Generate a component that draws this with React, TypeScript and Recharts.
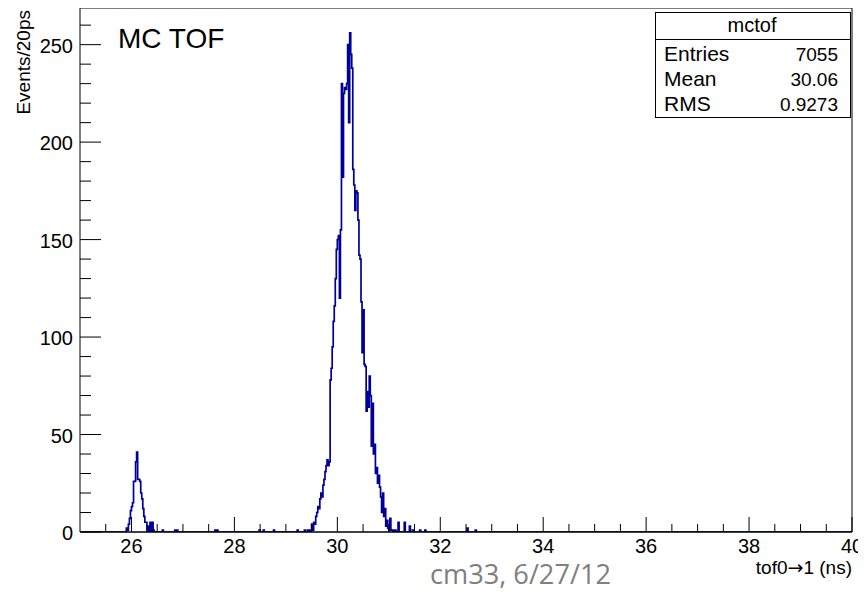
import React from 'react';
import { LineChart, Line, XAxis, YAxis, ReferenceLine } from 'recharts';

// histogram binning (ns)
const BIN = 0.02;
const X_MIN = 25;
const X_MAX = 40;
const Y_MAX = 268.8;

// small peak near 26 ns, counts per 20ps bin starting at 25.90
const lowPeakStart = 25.9;
const lowPeakCounts = [2, 1, 4, 7, 11, 13, 15, 26, 26, 36, 41, 27, 27, 26, 20, 17, 12, 8, 5, 5, 0, 3, 0, 5, 0, 5, 1];

// main peak near 30.2 ns, counts per 20ps bin starting at 29.50
const mainPeakStart = 29.5;
const mainPeakCounts = [
  4, 1, 5, 4, 8, 10, 13, 12, 17, 20, 18, 24, 27, 31, 34, 37, 34, 36,
  78, 84, 95, 108, 116, 130, 145, 150, 152, 120, 155,
  230, 182, 225, 228, 227, 230, 250, 210, 256, 245, 238,
  186, 178, 165, 175, 174, 160, 142, 140, 118, 92, 114,
  86, 85, 62, 72, 64, 80, 70, 44, 66, 40, 45, 30, 33, 25, 29, 23, 18, 10, 20,
  8, 12, 3, 6, 2, 1, 7, 1, 1, 0, 1, 1, 0, 0, 5,
];

// isolated entries outside the two peaks
const strayTimes = [26.6, 26.84, 26.88, 27.62, 27.66, 28.48, 28.56, 28.76, 29.22, 29.36, 29.42, 29.46, 31.3, 31.4, 31.46, 31.6, 31.7, 32.52, 32.68];
const strayCounts = [1, 1, 1, 1, 1, 1, 1, 1, 1, 1, 1, 1, 5, 3, 1, 1, 1, 2, 1];

const xTicks = [25.5, 26, 26.5, 27, 27.5, 28, 28.5, 29, 29.5, 30, 30.5, 31, 31.5, 32, 32.5, 33, 33.5, 34, 34.5, 35, 35.5, 36, 36.5, 37, 37.5, 38, 38.5, 39, 39.5, 40];
const xMajorTicks = [26, 28, 30, 32, 34, 36, 38, 40];
const yTicks = [0, 10, 20, 30, 40, 50, 60, 70, 80, 90, 100, 110, 120, 130, 140, 150, 160, 170, 180, 190, 200, 210, 220, 230, 240, 250, 260];
const yMajorTicks = [0, 50, 100, 150, 200, 250];

const statsLabels = ['Entries', 'Mean', 'RMS'];
const statsValues = ['7055', '30.06', '0.9273'];

const bins: number[] = new Array(Math.round((X_MAX - X_MIN) / BIN)).fill(0);
const binIndex = (t: number) => Math.round((t - X_MIN) / BIN);
lowPeakCounts.forEach((c, i) => { bins[binIndex(lowPeakStart) + i] += c; });
mainPeakCounts.forEach((c, i) => { bins[binIndex(mainPeakStart) + i] += c; });
strayTimes.forEach((t, i) => { bins[binIndex(t)] += strayCounts[i]; });

const histData = bins
  .map((n, i) => ({ t: +(X_MIN + i * BIN).toFixed(2), n }))
  .concat([{ t: X_MAX, n: 0 }]);

const FONT = '"Liberation Sans", Arial, sans-serif';

const XTick = ({ x, y, payload }: any) => {
  const major = xMajorTicks.includes(payload.value);
  return (
    <g>
      <line x1={x} x2={x} y1={y} y2={y - (major ? 15 : 8)} stroke="#000" />
      {major && (
        <text x={x} y={y + 21} textAnchor="middle" fontSize={20} fontFamily={FONT} fill="#000">
          {payload.value}
        </text>
      )}
    </g>
  );
};

const YTick = ({ x, y, payload }: any) => {
  const major = yMajorTicks.includes(payload.value);
  return (
    <g>
      <line x1={x} x2={x + (major ? 21 : 11)} y1={y} y2={y} stroke="#000" />
      {major && (
        <text x={x - 7} y={y + 8} textAnchor="end" fontSize={20} fontFamily={FONT} fill="#000">
          {payload.value}
        </text>
      )}
    </g>
  );
};

export default function App() {
  return (
    <div style={{ position: 'relative', left: -8, top: -8, width: 866, height: 592, background: '#fff' }}>
      <LineChart
        width={866}
        height={592}
        data={histData}
        margin={{ top: 8, right: 14, left: 20, bottom: 0 }}
      >
        <XAxis
          type="number"
          dataKey="t"
          domain={[X_MIN, X_MAX]}
          ticks={xTicks}
          interval={0}
          tick={<XTick />}
          tickLine={false}
          tickSize={0}
          tickMargin={0}
          height={60}
          axisLine={{ stroke: '#000' }}
          allowDataOverflow
        />
        <YAxis
          type="number"
          domain={[0, Y_MAX]}
          ticks={yTicks}
          interval={0}
          tick={<YTick />}
          tickLine={false}
          tickSize={0}
          tickMargin={0}
          width={60}
          axisLine={{ stroke: '#000' }}
          allowDataOverflow
        />
        <Line
          type="stepAfter"
          dataKey="n"
          stroke="#000099"
          strokeWidth={1.7}
          dot={false}
          activeDot={false}
          isAnimationActive={false}
        />
        <ReferenceLine y={0} stroke="#000" />
        <ReferenceLine y={Y_MAX} stroke="#000" />
        <ReferenceLine x={X_MAX} stroke="#000" />
      </LineChart>

      <svg
        width={866}
        height={592}
        style={{ position: 'absolute', left: 0, top: 0, pointerEvents: 'none' }}
        fontFamily={FONT}
      >
        <text x={118} y={48} fontSize={28} fill="#000">MC TOF</text>

        <text transform="translate(30,10) rotate(-90)" textAnchor="end" fontSize={19} fill="#000">
          Events/20ps
        </text>

        <text x={852} y={574} textAnchor="end" fontSize={19} fill="#000">
          tof0<tspan fontFamily={'"DejaVu Sans", sans-serif'} fontSize={19}>→</tspan>1 (ns)
        </text>

        <text x={430} y={584} fontSize={27} fill="#7f7f7f" fontFamily={'"Open Sans", sans-serif'} textLength={181} lengthAdjust="spacingAndGlyphs">
          cm33, 6/27/12
        </text>

        <rect x={655.5} y={12.5} width={195} height={105} fill="#fff" stroke="#000" />
        <line x1={655.5} x2={850.5} y1={39.5} y2={39.5} stroke="#000" />
        <text x={752} y={32} textAnchor="middle" fontSize={20} fill="#000">mctof</text>
        {statsLabels.map((label, i) => (
          <g key={label}>
            <text x={664} y={61 + i * 25} fontSize={21} fill="#000">{label}</text>
            <text x={838} y={61 + i * 25} textAnchor="end" fontSize={19} fill="#000">{statsValues[i]}</text>
          </g>
        ))}
      </svg>
    </div>
  );
}
